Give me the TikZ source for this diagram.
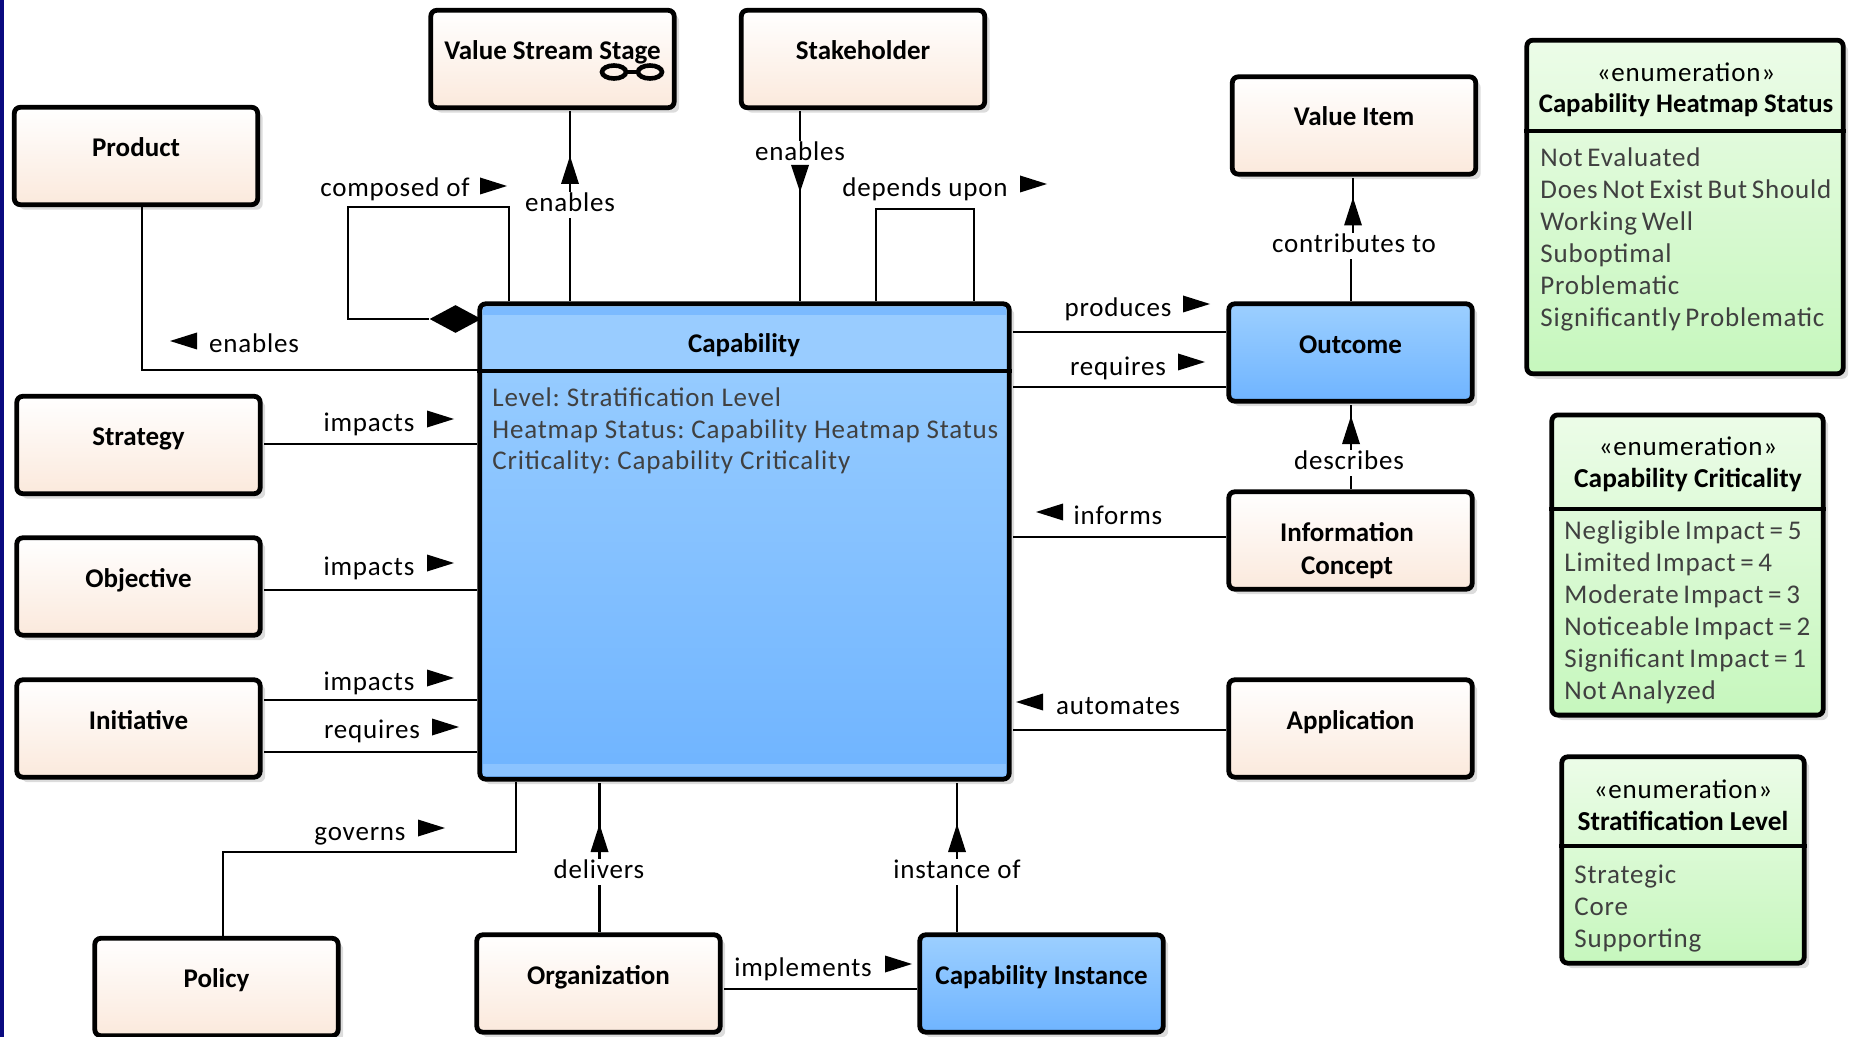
\documentclass[tikz,border=0pt]{standalone}
\usepackage{fontspec}
\setmainfont{Carlito}
\newfontfamily\lblfont[LetterSpace=3.0]{Carlito}
\newfontfamily\itemfont[LetterSpace=2.99,WordSpace=0.68]{Carlito}
\newfontfamily\attrfont[LetterSpace=3.01,WordSpace=1.0]{Carlito}
\usetikzlibrary{shadows,shapes.geometric}
\definecolor{navy}{HTML}{0A0A80}
\definecolor{shade}{HTML}{DCDCDC}
\definecolor{attr}{HTML}{404040}
\newcommand\nm[1]{\smash{\raisebox{-0.4pt}{#1}}}
\newcommand\tipR[2]{\fill[tip] (#1,#2) ++(0,-8.5) -- ++(27,8.5) -- ++(-27,8.5) -- cycle;}
\newcommand\tipL[2]{\fill[tip] (#1,#2) ++(27,-8.5) -- ++(-27,8.5) -- ++(27,8.5) -- cycle;}
\newcommand\tipU[2]{\fill[tip] (#1,#2) ++(-9,0) -- ++(9,-28) -- ++(9,28) -- cycle;}
\newcommand\tipD[2]{\fill[tip] (#1,#2) ++(-9,0) -- ++(9,27) -- ++(9,-27) -- cycle;}
\tikzset{
  basebox/.style={draw=black,line width=2.4pt,rounded corners=3pt,inner sep=0pt,
    copy shadow={shadow xshift=2.5pt,shadow yshift=-2.5pt,fill=shade,draw=none}},
  cream/.style={basebox,top color=white,bottom color=cream2,font=\fontsize{13.5}{16.5}\selectfont\bfseries,
    minimum width=121.7pt,minimum height=48.7pt},
  bluebox/.style={basebox,top color=blue1,bottom color=blue2,font=\fontsize{13.5}{16.5}\selectfont\bfseries,
    minimum width=121.7pt,minimum height=48.7pt},
  enumbox/.style={basebox,top color=green1,bottom color=green2},
  conn/.style={line width=1.1pt,draw=black},
  gapstart/.style={shorten <=0.7pt},
  gapend/.style={shorten >=0.7pt},
  lbl/.style={fill=white,inner xsep=2pt,inner ysep=0pt,yshift=-1.6pt,text height=9.5pt,text depth=3.5pt,font=\lblfont\fontsize{13.5}{16}\selectfont},
  tip/.style={fill=black},
  enumhead/.style={inner sep=0pt,font=\fontsize{13.5}{16}\selectfont,align=center},
  enumitems/.style={inner sep=0pt,anchor=west,align=left,text=attr,font=\itemfont\fontsize{13.5}{16}\selectfont},
  comp/.style={diamond,fill=black,inner sep=0pt,minimum width=26pt,minimum height=14pt,aspect=1.88},
}
\definecolor{cream2}{HTML}{FBE9DC}
\definecolor{blue1}{HTML}{9CCFFF}
\definecolor{blue2}{HTML}{6FB4FF}
\definecolor{green1}{HTML}{ECFCE8}
\definecolor{green2}{HTML}{C6F7BD}
\definecolor{headblue}{HTML}{99CCFF}
\definecolor{bandblue}{HTML}{7BBAFF}
\definecolor{bandlow}{HTML}{8BC3FF}
\begin{document}
\frenchspacing
\begin{tikzpicture}[x=0.5pt,y=-0.5pt]
\useasboundingbox (0,0) rectangle (1851,1037);
\fill[navy] (0,0) rectangle (3.5,1037);

% boxes
\node[cream] (product) at (136,156) {\nm{Product}};
\node[cream] (vss) at (552.5,59) {\nm{Value Stream Stage}};
\node[cream] (stakeholder) at (863,59) {\nm{Stakeholder}};
\node[cream] (valueitem) at (1354,125.5) {\smash{\raisebox{0.1pt}{Value Item}}};
\node[bluebox] (outcome) at (1350.5,352.5) {\nm{Outcome}};
\node[cream] (info) at (1350.5,540.5) {\smash{\raisebox{-9pt}{\hspace*{-3.5pt}\begin{tabular}{@{}c@{}}Information\\Concept\end{tabular}}}};
\node[cream] (application) at (1350.5,728.5) {\nm{Application}};
\node[cream] (strategy) at (138.5,445) {\nm{Strategy}};
\node[cream] (objective) at (138.5,586.5) {\nm{Objective}};
\node[cream] (initiative) at (138.5,728.5) {\nm{Initiative}};
\node[cream] (policy) at (216.5,987) {\nm{Policy}};
\node[cream] (organization) at (598.5,983.5) {\nm{Organization}};
\node[bluebox] (capinst) at (1041.5,983.5) {\nm{Capability Instance}};

% linked-loops icon of Value Stream Stage
\draw[line width=2.3pt] (614,72) ellipse [x radius=12,y radius=6.5];
\draw[line width=2.3pt] (650,72) ellipse [x radius=12,y radius=6.5];
\draw[line width=2.3pt] (626,72) -- (638,72);

% Capability
\node[basebox,top color=blue1,bottom color=blue2,minimum width=264.7pt,minimum height=237.7pt] (cap) at (744.5,541.5) {};
\fill[headblue] (482.6,306.6) rectangle (1006.4,371);
\fill[bandblue] (482.6,306.6) rectangle (1006.4,315);
\fill[bandlow] (482.6,764) rectangle (1006.4,776.4);
\draw[line width=2.4pt] (cap.west |- 0,371) -- (cap.east |- 0,371);
\node[inner sep=0pt,font=\fontsize{13.5}{16}\selectfont\bfseries] (capname) at (744,345) {Capability};
\node[enumitems,font=\attrfont\fontsize{13.5}{15.75}\selectfont] (capattrs) at (492,431) {Level: Stratification Level\\Heatmap Status: Capability Heatmap Status\\Criticality: Capability Criticality};

% enumerations
\node[enumbox,minimum width=158.2pt,minimum height=166.8pt] (e1) at (1685,207) {};
\draw[line width=2.4pt] (e1.west |- 0,131) -- (e1.east |- 0,131);
\node[enumhead,font=\lblfont\fontsize{13.5}{16}\selectfont] (e1s) at (1686,72) {«enumeration»};
\node[enumhead,font=\fontsize{13.4}{16}\selectfont\bfseries] (e1n) at (1686,105) {Capability Heatmap Status};
\node[enumitems] (e1i) at (1540,239) {Not Evaluated\\Does Not Exist But Should\\Working Well\\Suboptimal\\Problematic\\Significantly Problematic};

\node[enumbox,minimum width=135.7pt,minimum height=150.1pt] (e2) at (1687.5,565) {};
\draw[line width=2.4pt] (e2.west |- 0,509) -- (e2.east |- 0,509);
\node[enumhead,font=\lblfont\fontsize{13.5}{16}\selectfont] (e2s) at (1688,446) {«enumeration»};
\node[enumhead,font=\fontsize{13.7}{16}\selectfont\bfseries] (e2n) at (1688,480) {Capability Criticality};
\node[enumitems] (e2i) at (1564,612.5) {Negligible Impact = 5\\Limited Impact = 4\\Moderate Impact = 3\\Noticeable Impact = 2\\Significant Impact = 1\\Not Analyzed};

\node[enumbox,minimum width=121.2pt,minimum height=103.2pt] (e3) at (1683,860) {};
\draw[line width=2.4pt] (e3.west |- 0,846) -- (e3.east |- 0,846);
\node[enumhead,font=\lblfont\fontsize{13.5}{16}\selectfont] (e3s) at (1683,789) {«enumeration»};
\node[enumhead,font=\fontsize{13.7}{16}\selectfont\bfseries] (e3n) at (1683,820.5) {Stratification Level};
\node[enumitems] (e3i) at (1574,908.5) {Strategic\\Core\\Supporting};

% connectors
\draw[conn] (product.south -| 142,0) -- (142,370) -- (cap.west |- 0,370);
\node[lbl] (lproduct) at (254,343) {enables};
\tipL{170}{341}

\node[comp] (compd) at (455.5,319) {};
\draw[conn] (cap.north -| 509,0) -- (509,207) -- (348,207) -- (348,319) -- (compd.west);
\node[lbl,fill=none] (lcomposed) at (395,187) {composed of};
\tipR{480}{186}

\draw[conn,gapstart] (vss.south -| 570,0) -- (cap.north -| 570,0);
\node[lbl] (lvss) at (570,202) {enables};
\tipU{570}{184}

\draw[conn,gapstart] (stakeholder.south -| 800,0) -- (cap.north -| 800,0);
\node[lbl] (lstake) at (800,151) {enables};
\tipD{800}{165}

\draw[conn] (cap.north -| 876,0) -- (876,209) -- (974,209) -- (cap.north -| 974,0);
\node[lbl,fill=none] (ldepends) at (925,187) {depends upon};
\tipR{1020}{184}

\draw[conn,gapstart] (valueitem.south -| 1353,0) -- (1353,243) -- (1351,243) -- (outcome.north -| 1351,0);
\node[lbl] (lcontrib) at (1354,243) {contributes to};
\tipU{1353}{225.5}

\draw[conn,gapstart] (cap.east |- 0,332) -- (outcome.west |- 0,332);
\node[lbl,fill=none] (lproduces) at (1118,307) {produces};
\tipR{1183}{304}

\draw[conn,gapstart] (cap.east |- 0,387) -- (outcome.west |- 0,387);
\node[lbl,fill=none] (lreq) at (1118,366) {requires};
\tipR{1178}{362}

\draw[conn,gapstart] (outcome.south -| 1351,0) -- (info.north -| 1351,0);
\node[lbl] (ldesc) at (1349,460) {describes};
\tipU{1351}{444}

\draw[conn,gapstart] (cap.east |- 0,537) -- (info.west |- 0,537);
\node[lbl,fill=none] (linforms) at (1118,515) {informs};
\tipL{1036}{512}

\draw[conn,gapstart] (cap.east |- 0,730) -- (application.west |- 0,730);
\node[lbl,fill=none] (lauto) at (1118,705) {automates};
\tipL{1016}{702}

\draw[conn,gapstart] (strategy.east |- 0,444) -- (cap.west |- 0,444);
\node[lbl,fill=none] (limp1) at (369,422) {impacts};
\tipR{427}{419}

\draw[conn,gapstart] (objective.east |- 0,590) -- (cap.west |- 0,590);
\node[lbl,fill=none] (limp2) at (369,566) {impacts};
\tipR{427}{563}

\draw[conn,gapstart] (initiative.east |- 0,700) -- (cap.west |- 0,700);
\node[lbl,fill=none] (limp3) at (369,681) {impacts};
\tipR{427}{678}

\draw[conn,gapstart] (initiative.east |- 0,752) -- (cap.west |- 0,752);
\node[lbl,fill=none] (lreq2) at (372,729.5) {requires};
\tipR{432}{727}

\draw[conn] (cap.south -| 516,0) -- (516,852) -- (223,852) -- (policy.north -| 223,0);
\node[lbl,fill=none] (lgov) at (360,831) {governs};
\tipR{418}{828}

\draw[conn,gapend] (organization.north -| 599.5,0) -- (cap.south -| 599.5,0);
\node[lbl] (ldeliv) at (599,869) {delivers};
\tipU{599.5}{852}

\draw[conn,gapend] (capinst.north -| 957,0) -- (cap.south -| 957,0);
\node[lbl] (linst) at (957,869) {instance of};
\tipU{957}{852}

\draw[conn,gapstart] (organization.east |- 0,989) -- (capinst.west |- 0,989);
\node[lbl,fill=none] (limpl) at (803,967) {implements};
\tipR{885}{964}
\end{tikzpicture}
\end{document}
